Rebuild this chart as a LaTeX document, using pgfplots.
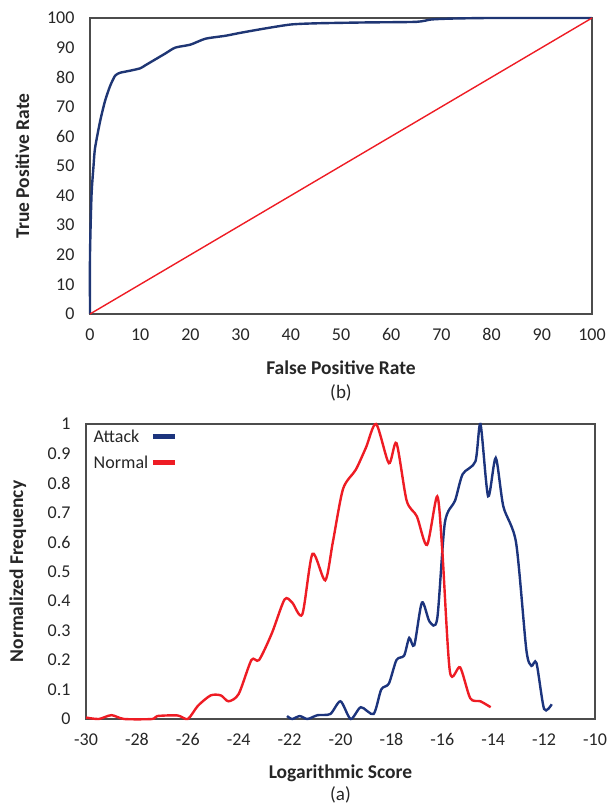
\documentclass[border=0pt]{standalone}
\usepackage{pgfplots}
\pgfplotsset{compat=1.18}
\usepackage{fontspec}
\setmainfont{Carlito}
\definecolor{rocblue}{RGB}{31,54,116}
\definecolor{attackblue}{RGB}{28,52,125}
\definecolor{normalred}{RGB}{238,28,36}
\definecolor{txt}{RGB}{38,38,38}

\pgfplotsset{
  panel/.style={
    scale only axis,
    axis line style={black!70, line width=1.1pt},
    major tick length=0pt,
    tick label style={font=\fontsize{18}{18}\selectfont, text=txt},
    label style={font=\fontsize{19.5}{19.5}\selectfont\bfseries, text=txt},
    /pgf/number format/assume math mode=true,
    clip=false,
  }
}

\begin{document}
\begin{tikzpicture}
\useasboundingbox (0pt,0pt) rectangle (608pt,809pt);

% ROC curve
\begin{axis}[panel,
  at={(90pt,495pt)}, anchor=south west,
  width=502pt, height=296pt,
  xmin=0, xmax=100, ymin=0, ymax=100,
  xtick={0,10,...,100}, ytick={0,10,...,100},
  xlabel={False Positive Rate}, ylabel={True Positive Rate},
  xlabel style={at={(axis description cs:0.5,-0.18)}, anchor=center},
  ylabel style={at={(axis description cs:-0.135,0.5)}, anchor=center},
  xticklabel style={yshift=-11pt},
  yticklabel style={xshift=-12pt},
]
\addplot[rocblue, line width=2.4pt, smooth, tension=0.4] coordinates {
  (0,0) (0,20) (0.3,40) (0.7,50) (1,56) (2,65) (3,72) (4,77) (5,80.5)
  (6,81.5) (8,82.2) (10,83) (11,84) (13,86) (15,88) (17,90) (20,91)
  (23,93) (27,94) (30,95) (35,96.5) (40,97.8) (45,98.2) (55,98.5)
  (65,98.7) (68,99.5) (72,99.8) (80,100) (100,100)
};
\addplot[normalred, line width=1.4pt] coordinates {(0,0) (100,100)};
\node[font=\fontsize{19}{19}\selectfont, text=txt] at (axis description cs:0.5,-0.265) {(b)};
\end{axis}

% Score distributions
\begin{axis}[panel,
  at={(86pt,90pt)}, anchor=south west,
  width=509pt, height=295pt,
  xmin=-30, xmax=-10, ymin=0, ymax=1,
  xtick={-30,-28,...,-10}, ytick={0,0.1,...,1},
  yticklabels={0,0.1,0.2,0.3,0.4,0.5,0.6,0.7,0.8,0.9,1},
  xlabel={Logarithmic Score}, ylabel={Normalized Frequency},
  xlabel style={at={(axis description cs:0.5,-0.183)}, anchor=center},
  ylabel style={at={(axis description cs:-0.134,0.5)}, anchor=center},
  xticklabel style={yshift=-11pt},
  yticklabel style={xshift=-12pt},
  legend plot pos=right,
  legend cell align=left,
  legend style={draw=none, fill=none, at={(0.005,0.995)}, anchor=north west,
    font=\fontsize{18}{18}\selectfont, text=txt, row sep=8pt},
  legend image code/.code={\draw[#1, line width=5pt] (0pt,0pt) -- (22pt,0pt);},
]
\addplot[attackblue, line width=2.4pt, smooth, tension=0.45] coordinates {
  (-22.1,0.01) (-21.9,0) (-21.6,0.01) (-21.3,0) (-20.9,0.013) (-20.4,0.017)
  (-20.0,0.06) (-19.6,0) (-19.2,0.04) (-18.7,0.017) (-18.4,0.1) (-18.1,0.12)
  (-17.8,0.2) (-17.5,0.215) (-17.3,0.275) (-17.1,0.25) (-16.8,0.395)
  (-16.5,0.33) (-16.2,0.34) (-15.9,0.665) (-15.5,0.74) (-15.2,0.83)
  (-14.7,0.873) (-14.5,1.0) (-14.2,0.755) (-13.9,0.885) (-13.6,0.72)
  (-13.1,0.597) (-12.7,0.236) (-12.5,0.18) (-12.3,0.19) (-12.0,0.034)
  (-11.7,0.05)
};
\addlegendentry{Attack}
\addplot[normalred, line width=2.4pt, smooth, tension=0.45] coordinates {
  (-30,0.005) (-29.5,0) (-29.0,0.013) (-28.5,0) (-27.4,0) (-27.2,0.01)
  (-26.4,0.012) (-26,0) (-25.6,0.045) (-25.1,0.08) (-24.7,0.08) (-24.4,0.06)
  (-24.0,0.085) (-23.5,0.2) (-23.2,0.2) (-22.7,0.29) (-22.2,0.405)
  (-21.9,0.395) (-21.5,0.355) (-21.1,0.56) (-20.6,0.47) (-20.3,0.6)
  (-19.9,0.78) (-19.4,0.845) (-19.0,0.92) (-18.6,1.0) (-18.1,0.867)
  (-17.8,0.935) (-17.4,0.74) (-17.0,0.687) (-16.6,0.59) (-16.2,0.755)
  (-16.0,0.57) (-15.7,0.16) (-15.3,0.175) (-14.9,0.07) (-14.5,0.06)
  (-14.1,0.04)
};
\addlegendentry{Normal}
\node[font=\fontsize{19}{19}\selectfont, text=txt] at (axis description cs:0.5,-0.258) {(a)};
\end{axis}
\end{tikzpicture}
\end{document}
